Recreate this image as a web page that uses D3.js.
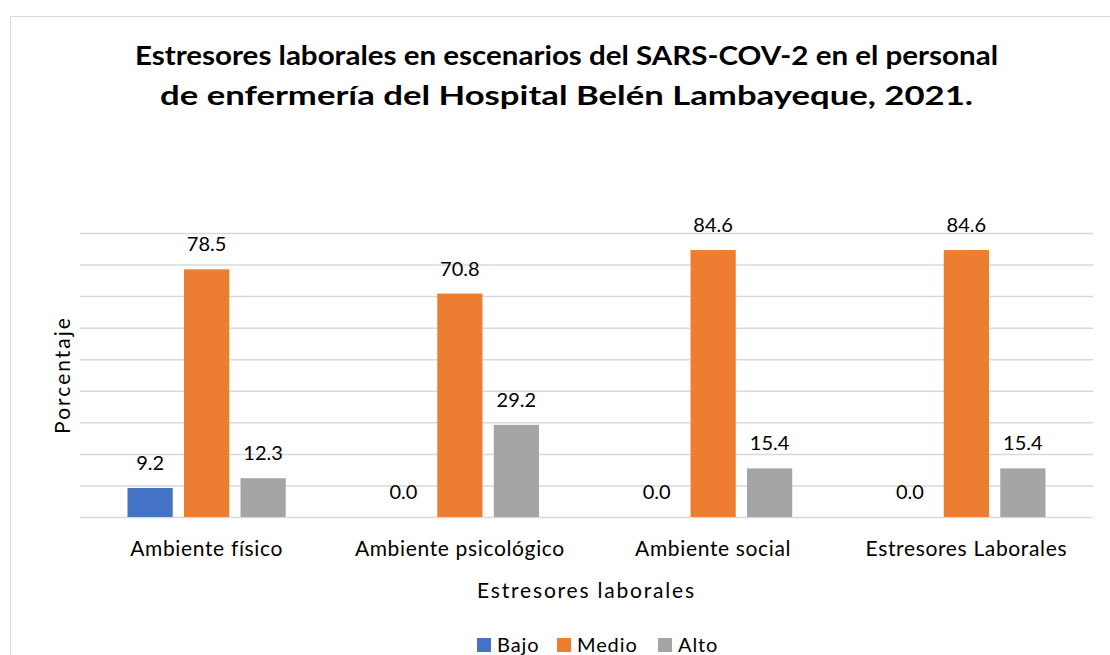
<!DOCTYPE html>
<html>
<head>
<meta charset="utf-8">
<script src="https://cdn.jsdelivr.net/npm/d3@7"></script>
<style>
  body { margin: 0; background: #fff; }
  text { font-family: Lato, "Open Sans", sans-serif; fill: #000; }
</style>
</head>
<body>
<div id="chart_area"></div>
<script>
// Data
var categories = ["Ambiente físico", "Ambiente psicológico", "Ambiente social", "Estresores Laborales"];
var series = ["Bajo", "Medio", "Alto"];
var bajo = [9.2, 0.0, 0.0, 0.0];
var medio = [78.5, 70.8, 84.6, 84.6];
var alto = [12.3, 29.2, 15.4, 15.4];
var yTicks = [0, 10, 20, 30, 40, 50, 60, 70, 80, 90];
var colors = ["#4472C4", "#ED7D31", "#A5A5A5"];

var values = [bajo, medio, alto];
var rows = categories.map(function(c, i) {
  return { cat: c, vals: series.map(function(s, j) { return { s: s, v: values[j][i] }; }) };
});

// frame
var frame_width = 1110, frame_height = 655;
var svg = d3.select("#chart_area").append("svg")
  .attr("width", frame_width)
  .attr("height", frame_height);

// chart border
svg.append("rect")
  .attr("x", 10.5).attr("y", 16.5)
  .attr("width", 1110).attr("height", 660)
  .attr("fill", "none").attr("stroke", "#d9d9d9");

// plot area
var plot = {left: 80, right: 1093, top: 233, bottom: 517};

var x0 = d3.scaleBand().domain(categories).range([plot.left, plot.right]);
var groupW = 169.5;
var x1 = d3.scaleBand().domain(series)
  .range([(x0.bandwidth() - groupW) / 2, (x0.bandwidth() + groupW) / 2])
  .paddingInner(0.2).paddingOuter(0.1);
var y = d3.scaleLinear().domain([0, 90]).range([plot.bottom, plot.top]);

// gridlines
var grid = svg.append("g")
  .attr("transform", "translate(" + plot.left + ",0)")
  .call(d3.axisLeft(y).tickValues(yTicks).tickSize(-(plot.right - plot.left)).tickFormat(""));
grid.select(".domain").remove();
grid.selectAll("line").attr("stroke", "#d9d9d9").attr("stroke-width", 1.5);

// bars
var groups = svg.selectAll(".grp")
  .data(rows)
  .enter().append("g")
  .attr("class", "grp")
  .attr("transform", function(d) { return "translate(" + x0(d.cat) + ",0)"; });

groups.selectAll("rect")
  .data(function(d) { return d.vals; })
  .enter().append("rect")
  .attr("x", function(d) { return x1(d.s); })
  .attr("y", function(d) { return y(d.v); })
  .attr("width", x1.bandwidth())
  .attr("height", function(d) { return y(0) - y(d.v); })
  .attr("fill", function(d, j) { return colors[j]; });

groups.selectAll(".lbl")
  .data(function(d) { return d.vals; })
  .enter().append("text")
  .attr("class", "lbl")
  .attr("x", function(d) { return x1(d.s) + x1.bandwidth() / 2; })
  .attr("y", function(d) { return y(d.v) - 18; })
  .attr("text-anchor", "middle")
  .style("font-size", "20px")
  .text(function(d) { return d.v.toFixed(1); });

// x axis labels
var xAxis = svg.append("g")
  .attr("transform", "translate(0," + plot.bottom + ")")
  .call(d3.axisBottom(x0).tickSize(0).tickPadding(24));
xAxis.select(".domain").remove();
xAxis.selectAll("text")
  .style("font-family", "Lato, sans-serif")
  .style("font-size", "21px")
  .style("letter-spacing", "0.65px")
  .attr("fill", "#000");

// axis titles
svg.append("text")
  .attr("x", (plot.left + plot.right) / 2).attr("y", 598)
  .attr("text-anchor", "middle")
  .style("font-size", "21px")
  .style("letter-spacing", "1.8px")
  .text("Estresores laborales");

svg.append("text")
  .attr("transform", "translate(70,375) rotate(-90)")
  .attr("text-anchor", "middle")
  .style("font-size", "21px")
  .style("letter-spacing", "2px")
  .text("Porcentaje");

// title
svg.append("text")
  .attr("x", 566.5).attr("y", 65)
  .attr("text-anchor", "middle")
  .attr("textLength", 863).attr("lengthAdjust", "spacingAndGlyphs")
  .style("font-size", "26px").style("font-weight", "bold")
  .text("Estresores laborales en escenarios del SARS-COV-2 en el personal");
svg.append("text")
  .attr("x", 566.5).attr("y", 105)
  .attr("text-anchor", "middle")
  .attr("textLength", 813).attr("lengthAdjust", "spacingAndGlyphs")
  .style("font-size", "26px").style("font-weight", "bold")
  .text("de enfermería del Hospital Belén Lambayeque, 2021.");

// legend
var legendX = [477, 557, 658];
var legend = svg.selectAll(".leg")
  .data(series)
  .enter().append("g")
  .attr("class", "leg")
  .attr("transform", function(d, i) { return "translate(" + legendX[i] + ",638)"; });
legend.append("rect")
  .attr("width", 14).attr("height", 14)
  .attr("fill", function(d, i) { return colors[i]; });
legend.append("text")
  .attr("x", 20).attr("y", 14)
  .style("font-size", "20px")
  .style("letter-spacing", "0.9px")
  .text(function(d) { return d; });
</script>
</body>
</html>
